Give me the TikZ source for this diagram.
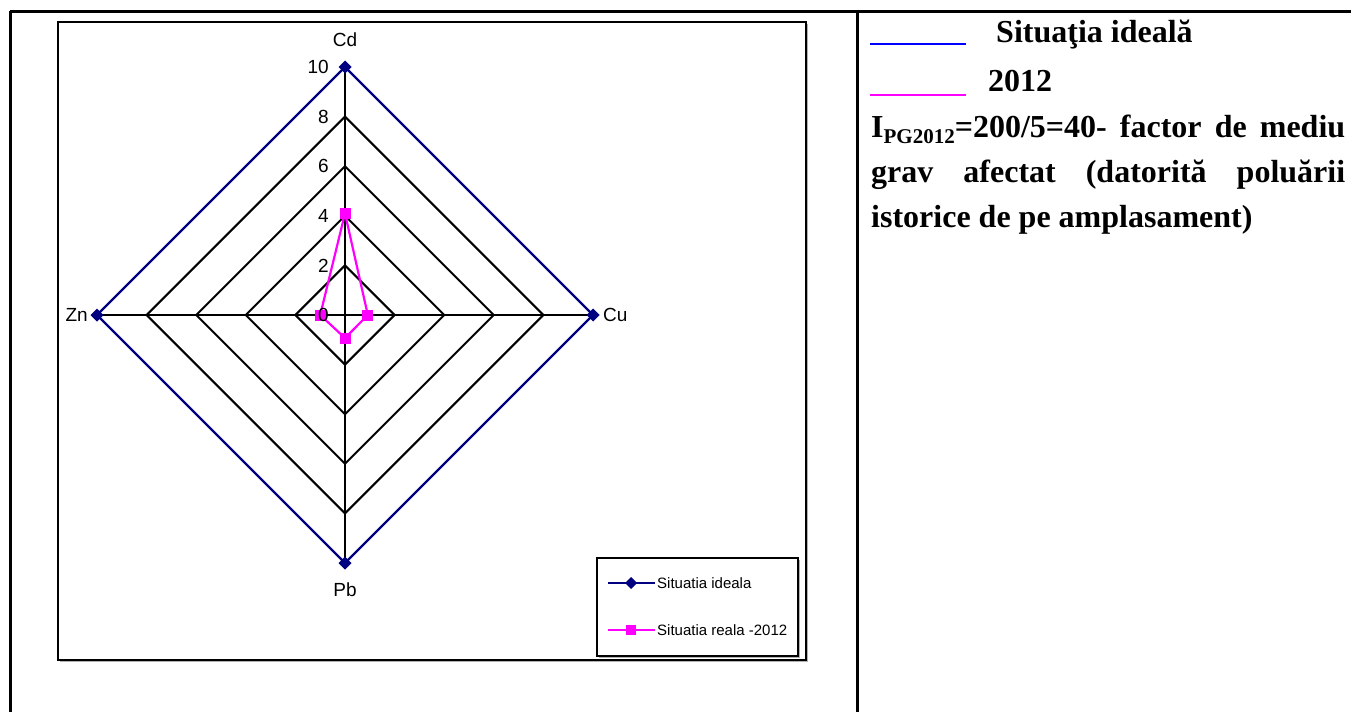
\documentclass[tikz,border=0pt]{standalone}
\usepackage{fontspec}
\setmainfont{Liberation Serif}
\setsansfont{Liberation Sans}
\usetikzlibrary{positioning}
\definecolor{idealblue}{RGB}{0,0,128}
\definecolor{realpink}{RGB}{255,0,255}
\definecolor{keyblue}{RGB}{0,0,255}

\begin{document}
\begin{tikzpicture}[x=1pt, y=-1pt,
    tableline/.style={line width=3pt, black},
    frame/.style={line width=2.4pt, black, fill=white},
    grid/.style={line width=2pt, black},
    ideal/.style={line width=2.2pt, idealblue},
    real/.style={line width=2.2pt, realpink},
    axlabel/.style={font=\sffamily\fontsize{19}{21}\selectfont, inner sep=2pt},
    keytext/.style={font=\sffamily\fontsize{15}{17}\selectfont, inner sep=0pt, anchor=west},
    note/.style={font=\bfseries\fontsize{32}{45}\selectfont, inner sep=0pt}
  ]
  \useasboundingbox (0,0) rectangle (1351,712);

  % Table lines
  \draw[tableline] (10,11) -- (1351,11);
  \draw[tableline] (10,11) -- (10,712);
  \draw[tableline] (857,11) -- (857,712);

  % Chart frame with shadow
  \fill[gray!60] (60,24) rectangle (808,662);
  \draw[frame] (58,22) rectangle (806,660);

  % Radar chart, one unit = one step of the scale
  \begin{scope}[shift={(345,315)}, x=24.8pt, y=24.8pt]
    \coordinate (O) at (0,0);
    % Rings
    \foreach \v in {2,4,6,8} {
      \draw[grid] (0,\v) -- (\v,0) -- (0,-\v) -- (-\v,0) -- cycle;
    }
    % Axes
    \coordinate (cdmax) at (0,10);
    \coordinate (cumax) at (10,0);
    \coordinate (pbmax) at (0,-10);
    \coordinate (znmax) at (-10,0);
    \foreach \p in {cdmax,cumax,pbmax,znmax} {
      \draw[grid] (O) -- (\p);
    }

    % Ideal situation
    \draw[ideal] (cdmax) -- (cumax) -- (pbmax) -- (znmax) -- cycle;
    \foreach \p in {cdmax,cumax,pbmax,znmax} {
      \fill[idealblue] (\p) +(-6.5pt,0) -- +(0,6.5pt) -- +(6.5pt,0) -- +(0,-6.5pt) -- cycle;
    }

    % Real situation 2012
    \coordinate (cdreal) at (0,4.1);
    \coordinate (cureal) at (0.92,0);
    \coordinate (pbreal) at (0,-0.93);
    \coordinate (znreal) at (-1,0);
    \draw[real] (cdreal) -- (cureal) -- (pbreal) -- (znreal) -- cycle;
    \foreach \p in {cdreal,cureal,pbreal,znreal} {
      \fill[realpink] (\p) +(-5.5pt,-5.5pt) rectangle +(5.5pt,5.5pt);
    }

    % Scale labels
    \foreach \v in {0,2,4,6,8,10} {
      \node[axlabel, anchor=east, xshift=-14pt] (tick\v) at (0,\v) {\v};
    }
    % Axis names
    \node[axlabel, anchor=south, yshift=18pt] (cdname) at (cdmax) {Cd};
    \node[axlabel, anchor=west, xshift=8pt] (cuname) at (cumax) {Cu};
    \node[axlabel, anchor=north, yshift=-18pt] (pbname) at (pbmax) {Pb};
    \node[axlabel, anchor=east, xshift=-7pt] (znname) at (znmax) {Zn};
  \end{scope}

  % Legend
  \fill[gray!60] (599,560) rectangle (800,658);
  \draw[line width=1.8pt, fill=white] (597,558) rectangle (798,656);
  \coordinate (idealA) at (608,583);
  \coordinate (idealB) at (655,583);
  \coordinate (realA) at (608,630);
  \coordinate (realB) at (655,630);
  \draw[ideal] (idealA) -- (idealB);
  \fill[idealblue] (631,583) +(-6pt,0) -- +(0,6pt) -- +(6pt,0) -- +(0,-6pt) -- cycle;
  \draw[real] (realA) -- (realB);
  \fill[realpink] (631,630) +(-5pt,-5pt) rectangle +(5pt,5pt);
  \node[keytext] (idealkey) at (657,583) {Situatia ideala};
  \node[keytext] (realkey) at (657,630) {Situatia reala -2012};

  % Right cell
  \coordinate (blueA) at (870,44);
  \coordinate (blueB) at (966,44);
  \coordinate (pinkA) at (870,95);
  \coordinate (pinkB) at (966,95);
  \draw[line width=1.6pt, keyblue] (blueA) -- (blueB);
  \draw[line width=1.6pt, realpink] (pinkA) -- (pinkB);
  \node[note, anchor=base west] (idealnote) at (996,42) {Situaţia ideală};
  \node[note, anchor=base west] (realnote) at (988,91) {2012};
  \node[note, anchor=north west, text width=474pt, align=justify] (index) at (871,115)
    {I\raisebox{-6pt}{\fontsize{21}{21}\selectfont PG2012}=200/5=40- factor de mediu\linebreak
     grav afectat (datorită poluării\linebreak
     istorice de pe amplasament)};
\end{tikzpicture}
\end{document}
